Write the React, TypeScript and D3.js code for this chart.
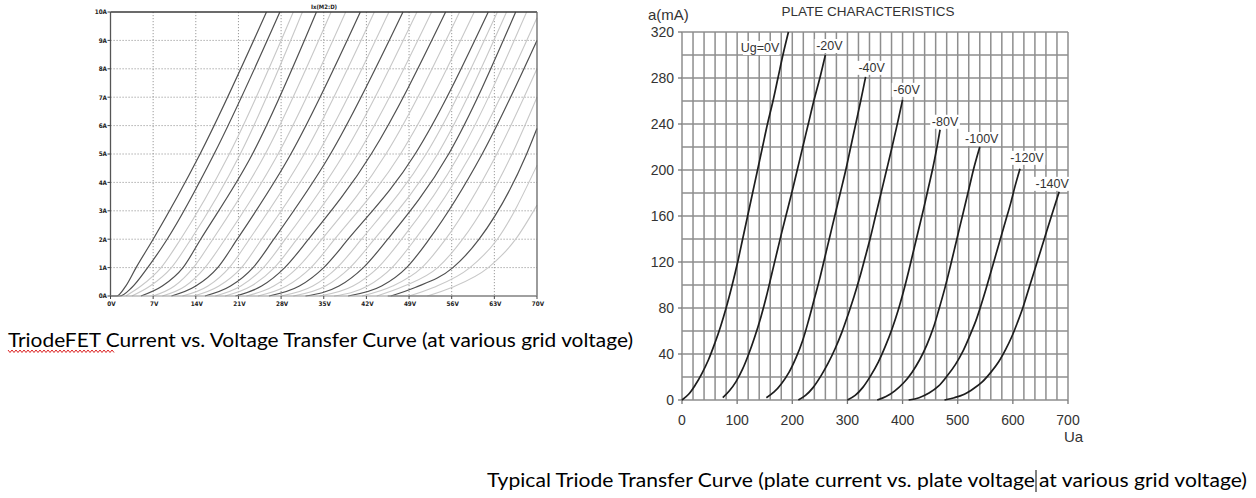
import React from "react";
import * as d3 from "d3";

// ---------- Left chart (TriodeFET) data: [volts, amps] ----------
const fetVoltTicks = [0, 7, 14, 21, 28, 35, 42, 49, 56, 63, 70];
const fetAmpTicks = [0, 1, 2, 3, 4, 5, 6, 7, 8, 9, 10];
const fetTitle = "Ix(M2:D)";

const fetDarkCurves: [number, number][][] = [
  [[0, 0], [1, 0], [2.5, 0.35], [4.2, 1], [7, 2], [14.7, 5], [25.6, 10]],
  [[0, 0], [1.5, 0], [3.5, 0.3], [6.1, 1], [9.3, 2], [17, 5], [27.8, 10]],
  [[5, 0], [8.5, 0.35], [11.9, 1], [14.8, 2], [23.3, 5], [33.8, 10]],
  [[10, 0], [14, 0.35], [17.6, 1], [20.8, 2], [29.6, 5], [41, 10]],
  [[15.5, 0], [19.7, 0.35], [23.4, 1], [26.8, 2], [36.1, 5], [48, 10]],
  [[20.5, 0], [24.8, 0.35], [28.6, 1], [32.5, 2], [42.8, 5], [55, 10]],
  [[26, 0], [31, 0.35], [35, 1], [39, 2], [50, 5], [62, 10]],
  [[32, 0], [37.5, 0.35], [41.5, 1], [45.5, 2], [55.5, 5], [66.5, 10]],
  [[39, 0], [44.5, 0.35], [48.6, 1], [52.3, 2], [61, 5], [70, 9]],
  [[46, 0], [50, 0.3], [56.2, 1], [60.5, 2], [68.3, 5], [70, 5.9]],
  [[45.5, 0], [70, 0]],
];

const fetLightCurves: [number, number][][] = [
  [[2.5, 0], [5, 0.35], [8.3, 1], [11.5, 2], [19.5, 5], [30, 10]],
  [[3.5, 0], [6.5, 0.35], [10, 1], [13.2, 2], [21.3, 5], [31.5, 10]],
  [[7, 0], [10.5, 0.35], [13.6, 1], [16.8, 2], [25.4, 5], [36.2, 10]],
  [[8.5, 0], [12.3, 0.35], [15.5, 1], [18.8, 2], [27.5, 5], [38.6, 10]],
  [[11.8, 0], [16, 0.35], [19.5, 1], [22.8, 2], [31.8, 5], [43.3, 10]],
  [[13.7, 0], [17.8, 0.35], [21.5, 1], [24.8, 2], [34, 5], [45.7, 10]],
  [[17.2, 0], [21.4, 0.35], [25.1, 1], [28.7, 2], [38.3, 5], [50.3, 10]],
  [[18.8, 0], [23.1, 0.35], [26.9, 1], [30.6, 2], [40.6, 5], [52.7, 10]],
  [[22.3, 0], [26.8, 0.35], [30.7, 1], [34.7, 2], [45.2, 5], [57.3, 10]],
  [[24.2, 0], [28.9, 0.35], [32.9, 1], [36.8, 2], [47.6, 5], [59.7, 10]],
  [[28, 0], [33.2, 0.35], [37.2, 1], [41.2, 2], [51.8, 5], [63.5, 10]],
  [[30, 0], [35.3, 0.35], [39.3, 1], [43.3, 2], [53.7, 5], [65, 10]],
  [[34.3, 0], [39.8, 0.35], [43.9, 1], [47.8, 2], [57.3, 5], [68.3, 10]],
  [[36.7, 0], [42.2, 0.35], [46.2, 1], [50, 2], [59.2, 5], [70, 9.8]],
  [[41.3, 0], [46.3, 0.35], [51.1, 1], [55, 2], [63.4, 5], [70, 8]],
  [[43.7, 0], [48.2, 0.35], [53.7, 1], [57.8, 2], [65.9, 5], [70, 7]],
  [[49, 0], [53, 0.3], [59, 1], [63.5, 2], [70, 4.6]],
  [[52, 0], [56, 0.3], [62, 1], [66.5, 2], [70, 3.2]],
];

const fetCaption = "TriodeFET Current vs. Voltage Transfer Curve (at various grid voltage)";

// ---------- Right chart (plate characteristics) data: [Ua (V), Ia (mA)] ----------
const plateTitle = "PLATE CHARACTERISTICS";
const plateYLabel = "a(mA)";
const plateXLabel = "Ua";
const plateXTicks = [0, 100, 200, 300, 400, 500, 600, 700];
const plateYTicks = [0, 40, 80, 120, 160, 200, 240, 280, 320];
const gridVoltageLabels = ["Ug=0V", "-20V", "-40V", "-60V", "-80V", "-100V", "-120V", "-140V"];

const plateCurves: [number, number][][] = [
  [[0, 0], [12, 5], [24, 13], [36, 23], [48, 35], [60, 50], [70, 64], [80, 80], [91, 100], [101, 120], [110, 140], [119, 160], [128, 180], [137, 200], [146, 220], [155, 240], [165, 260], [174, 280], [183, 300], [193, 320]],
  [[74, 2], [86, 8], [98, 16], [110, 27], [121, 40], [132, 55], [143, 72], [153, 90], [163, 110], [172, 128], [181, 146], [190, 163], [199, 180], [209, 200], [219, 220], [229, 240], [239, 260], [250, 280], [260, 300]],
  [[153, 2], [167, 7], [180, 14], [194, 24], [207, 37], [219, 52], [230, 70], [240, 88], [250, 106], [259, 124], [268, 142], [277, 160], [287, 180], [297, 200], [306, 220], [315, 240], [324, 260], [333, 281]],
  [[211, 0], [224, 4], [238, 11], [252, 21], [265, 32], [278, 45], [290, 59], [301, 74], [312, 90], [322, 106], [331, 122], [341, 140], [350, 158], [360, 178], [370, 198], [380, 218], [390, 239], [400, 261]],
  [[300, 0], [314, 4], [328, 11], [342, 21], [356, 33], [369, 47], [381, 62], [392, 78], [402, 95], [411, 112], [420, 130], [429, 148], [438, 166], [447, 185], [455, 202], [462, 219], [468, 235]],
  [[354, 0], [370, 3], [386, 8], [402, 15], [417, 24], [431, 35], [444, 48], [456, 63], [466, 79], [476, 96], [485, 113], [494, 131], [503, 149], [512, 167], [521, 185], [530, 203], [540, 220]],
  [[411, 0], [430, 2], [448, 6], [465, 12], [481, 21], [496, 31], [510, 43], [522, 56], [533, 69], [542, 82], [551, 96], [560, 111], [569, 126], [578, 141], [587, 156], [596, 171], [604, 186], [613, 201]],
  [[476, 0], [494, 2], [512, 5], [529, 10], [545, 16], [560, 24], [574, 33], [587, 44], [598, 55], [608, 67], [618, 80], [631, 100], [644, 120], [657, 140], [670, 160], [684, 181]],
];

const plateCaptionA = "Typical Triode Transfer Curve (plate current vs. plate voltage";
const plateCaptionB = "at various grid voltage)";

function range(a: number, b: number, s: number) {
  return d3.range(a, b + s / 2, s);
}

export default function App() {
  // Left chart scales
  const fx = d3.scaleLinear().domain([0, 70]).range([110.5, 537]);
  const fy = d3.scaleLinear().domain([0, 10]).range([296, 12]);
  const fLine = d3
    .line<[number, number]>()
    .x((d) => fx(d[0]))
    .y((d) => fy(d[1]))
    .curve(d3.curveMonotoneX);

  // Right chart scales
  const px = d3.scaleLinear().domain([0, 700]).range([682, 1068]);
  const py = d3.scaleLinear().domain([0, 320]).range([400, 32]);
  const pLine = d3
    .line<[number, number]>()
    .x((d) => px(d[0]))
    .y((d) => py(d[1]))
    .curve(d3.curveCatmullRom.alpha(0.5));

  const tickFont = "'DejaVu Sans Condensed', 'DejaVu Sans', sans-serif";
  const arial = "'Liberation Sans', Arial, sans-serif";
  const capFont = "Lato, 'Open Sans', sans-serif";

  // label offsets relative to each curve's top end (drawing layout)
  const labelOffsets: [number, number, string][] = [
    [-9, 20, "end"],
    [4, -5, "middle"],
    [6, -5, "middle"],
    [4, -6, "middle"],
    [5, -4, "middle"],
    [2, -4, "middle"],
    [7, -7, "middle"],
    [-7, -4, "middle"],
  ];

  // wavy underline path
  const wave: string[] = [];
  for (let x = 8, i = 0; x <= 115; x += 2, i++) {
    wave.push(`${i === 0 ? "M" : "L"}${x},${i % 2 === 0 ? 350 : 352.5}`);
  }

  return (
    <svg
      width={1256}
      height={498}
      style={{ position: "absolute", left: 0, top: 0, background: "#fff" }}
    >
      <rect x={0} y={0} width={1256} height={498} fill="#fff" />

      {/* ===== Left chart ===== */}
      <g>
        {fetVoltTicks.slice(1, -1).map((v) => (
          <line
            key={"fv" + v}
            x1={fx(v)}
            x2={fx(v)}
            y1={fy(10)}
            y2={fy(0)}
            stroke="#9a9a9a"
            strokeWidth={1}
            strokeDasharray="1.2,1.8"
          />
        ))}
        {fetAmpTicks.slice(1, -1).map((a) => (
          <line
            key={"fa" + a}
            x1={fx(0)}
            x2={fx(70)}
            y1={fy(a)}
            y2={fy(a)}
            stroke="#9a9a9a"
            strokeWidth={1}
            strokeDasharray="1.2,1.8"
          />
        ))}
        {fetLightCurves.map((c, i) => (
          <path key={"lc" + i} d={fLine(c) || ""} fill="none" stroke="#c8c8c8" strokeWidth={1.1} />
        ))}
        {fetDarkCurves.map((c, i) => (
          <path key={"dc" + i} d={fLine(c) || ""} fill="none" stroke="#505050" strokeWidth={1.2} />
        ))}
        {/* frame */}
        <line x1={fx(0)} x2={fx(70)} y1={fy(10)} y2={fy(10)} stroke="#3a3a3a" strokeWidth={1.6} />
        <line x1={fx(0)} x2={fx(0)} y1={fy(10)} y2={fy(0)} stroke="#555" strokeWidth={1.3} />
        <line x1={fx(70)} x2={fx(70)} y1={fy(10)} y2={fy(0)} stroke="#666" strokeWidth={1.3} />
        <line x1={fx(0)} x2={fx(70)} y1={fy(0)} y2={fy(0)} stroke="#999" strokeWidth={1} />
        {fetAmpTicks.map((a) => (
          <g key={"ta" + a}>
            <line x1={fx(0) - 3} x2={fx(0)} y1={fy(a)} y2={fy(a)} stroke="#444" strokeWidth={1} />
            <text
              x={fx(0) - 3.5}
              y={fy(a) + 2.3}
              textAnchor="end"
              fontFamily={tickFont}
              fontWeight="bold"
              fontSize={6.3}
              fill="#222"
            >
              {a + "A"}
            </text>
          </g>
        ))}
        {fetVoltTicks.map((v) => (
          <g key={"tv" + v}>
            <line x1={fx(v)} x2={fx(v)} y1={fy(0)} y2={fy(0) + 3} stroke="#444" strokeWidth={1} />
            <text
              x={fx(v) + 1}
              y={fy(0) + 10}
              textAnchor="middle"
              fontFamily={tickFont}
              fontWeight="bold"
              fontSize={6.3}
              fill="#222"
            >
              {v + "V"}
            </text>
          </g>
        ))}
        <text
          x={324}
          y={9}
          textAnchor="middle"
          fontFamily={tickFont}
          fontWeight="bold"
          fontSize={6}
          fill="#222"
        >
          {fetTitle}
        </text>
      </g>

      {/* Left caption */}
      <text
        x={8}
        y={347}
        fontFamily={capFont}
        fontSize={18.5}
        fill="#000"
        textLength={625}
        lengthAdjust="spacingAndGlyphs"
      >
        {fetCaption}
      </text>
      <path d={wave.join(" ")} fill="none" stroke="#d22" strokeWidth={1} />

      {/* ===== Right chart ===== */}
      <g>
        {range(0, 700, 20).map((v) => (
          <line
            key={"pv" + v}
            x1={px(v)}
            x2={px(v)}
            y1={py(320)}
            y2={py(0)}
            stroke="#8e8e8e"
            strokeWidth={1.5}
          />
        ))}
        {range(0, 320, 20).map((a) => (
          <line
            key={"ph" + a}
            x1={px(0)}
            x2={px(700)}
            y1={py(a)}
            y2={py(a)}
            stroke="#8e8e8e"
            strokeWidth={1.5}
          />
        ))}
        {plateYTicks.map((a) => (
          <g key={"py" + a}>
            <line x1={px(0) - 4} x2={px(0)} y1={py(a)} y2={py(a)} stroke="#777" strokeWidth={1.3} />
            <text
              x={px(0) - 8}
              y={py(a) + 5}
              textAnchor="end"
              fontFamily={arial}
              fontSize={14}
              fill="#333"
            >
              {a}
            </text>
          </g>
        ))}
        {plateXTicks.map((v) => (
          <g key={"px" + v}>
            <line x1={px(v)} x2={px(v)} y1={py(0)} y2={py(0) + 4} stroke="#777" strokeWidth={1.3} />
            <text
              x={px(v)}
              y={py(0) + 25}
              textAnchor="middle"
              fontFamily={arial}
              fontSize={14}
              fill="#333"
            >
              {v}
            </text>
          </g>
        ))}
        {plateCurves.map((c, i) => (
          <path key={"pc" + i} d={pLine(c) || ""} fill="none" stroke="#1e1e1e" strokeWidth={1.7} />
        ))}
        {plateCurves.map((c, i) => {
          const top = c[c.length - 1];
          const [dx, dy, anchor] = labelOffsets[i];
          const x = px(top[0]) + dx;
          const y = py(top[1]) + dy;
          const w = gridVoltageLabels[i].length * 6.9 + 2;
          const rx = anchor === "end" ? x - w : x - w / 2;
          return (
            <g key={"pl" + i}>
              <rect x={rx} y={y - 11} width={w} height={14} fill="#fff" />
              <text
                x={x}
                y={y}
                textAnchor={anchor as any}
                fontFamily={arial}
                fontSize={12.5}
                fill="#333"
              >
                {gridVoltageLabels[i]}
              </text>
            </g>
          );
        })}
        <text x={648} y={20} fontFamily={arial} fontSize={15} fill="#333">
          {plateYLabel}
        </text>
        <text
          x={868}
          y={16}
          textAnchor="middle"
          fontFamily={arial}
          fontSize={13.5}
          fill="#333"
        >
          {plateTitle}
        </text>
        <text x={1064} y={442} fontFamily={arial} fontSize={15} fill="#333">
          {plateXLabel}
        </text>
      </g>

      {/* Right caption */}
      <text
        x={487}
        y={487}
        fontFamily={capFont}
        fontSize={18.5}
        fill="#000"
        textLength={548}
        lengthAdjust="spacingAndGlyphs"
      >
        {plateCaptionA}
      </text>
      <line x1={1036} x2={1036} y1={470} y2={492} stroke="#000" strokeWidth={1} />
      <text
        x={1039}
        y={487}
        fontFamily={capFont}
        fontSize={18.5}
        fill="#000"
        textLength={208}
        lengthAdjust="spacingAndGlyphs"
      >
        {plateCaptionB}
      </text>
    </svg>
  );
}
